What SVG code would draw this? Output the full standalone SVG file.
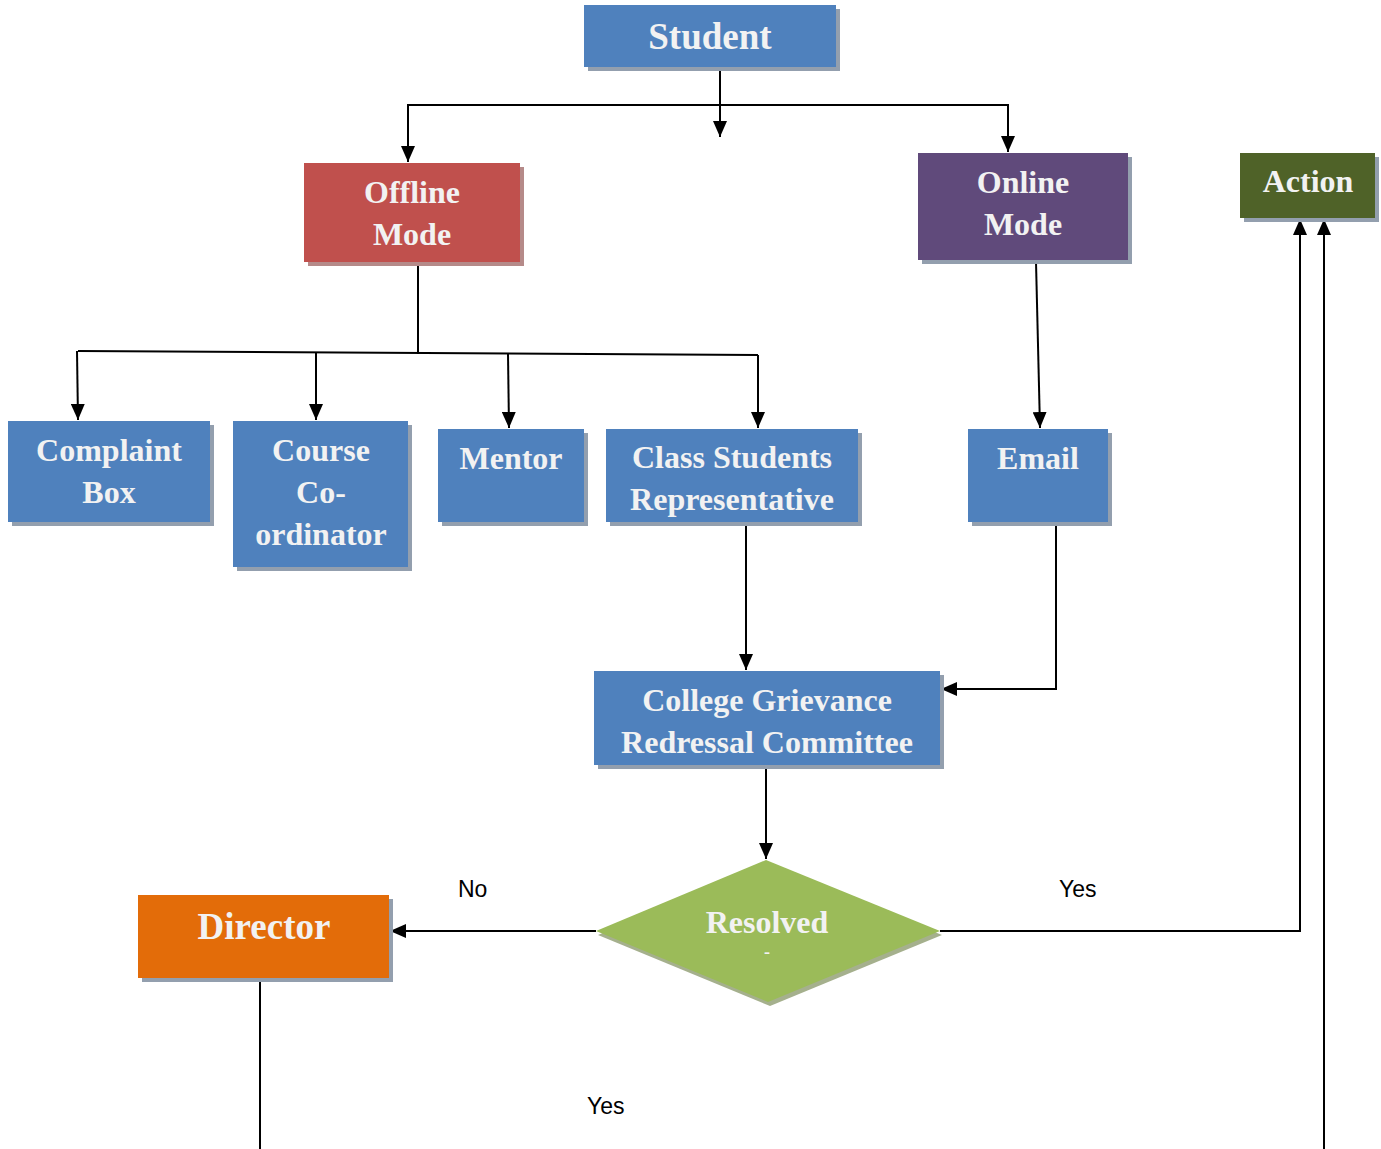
<svg xmlns="http://www.w3.org/2000/svg" width="1381" height="1149" viewBox="0 0 1381 1149">
<style>
.t{font-family:"Liberation Serif","Times New Roman",serif;font-weight:bold;font-size:32px;fill:#f2f2f2;text-anchor:middle}
.big{font-size:37px}
.sh{fill:#939fae}
.lbl{font-family:"Liberation Sans",Arial,sans-serif;font-size:23px;fill:#000}
.c{fill:none;stroke:#000;stroke-width:2}
.blue{fill:#4f81bd}
</style>
<defs>
<marker id="arr" markerUnits="userSpaceOnUse" markerWidth="16" markerHeight="14" refX="16" refY="7" orient="auto">
<path d="M0,0 L16,7 L0,14 z" fill="#000"/>
</marker>
</defs>
<rect width="1381" height="1149" fill="#fff"/>
<g id="connectors">
<path class="c" d="M720,67 V137" marker-end="url(#arr)"/>
<path class="c" d="M720,105 H408 V162" marker-end="url(#arr)"/>
<path class="c" d="M720,105 H1008 V152" marker-end="url(#arr)"/>
<path class="c" d="M418,262 V354"/>
<path class="c" d="M78,351 L758,355"/>
<path class="c" d="M77,351 L78,420" marker-end="url(#arr)"/>
<path class="c" d="M316,353 V420" marker-end="url(#arr)"/>
<path class="c" d="M508,354 L509,428" marker-end="url(#arr)"/>
<path class="c" d="M758,355 V428" marker-end="url(#arr)"/>
<path class="c" d="M1036,262 L1040,428" marker-end="url(#arr)"/>
<path class="c" d="M746,522 V670" marker-end="url(#arr)"/>
<path class="c" d="M1056,522 V689 H941" marker-end="url(#arr)"/>
<path class="c" d="M766,765 V859" marker-end="url(#arr)"/>
<path class="c" d="M596,931 H390" marker-end="url(#arr)"/>
<path class="c" d="M940,931 H1300 V219" marker-end="url(#arr)"/>
<path class="c" d="M1324,1149 V219" marker-end="url(#arr)"/>
<path class="c" d="M260,978 V1149"/>
</g>
<g id="labels">
<text class="lbl" x="458" y="897">No</text>
<text class="lbl" x="1059" y="897">Yes</text>
<text class="lbl" x="587" y="1114">Yes</text>
</g>
<g id="student">
<rect class="sh" x="588" y="9" width="252" height="62"/>
<rect class="blue" x="584" y="5" width="252" height="62"/>
<text class="t big" x="710" y="49">Student</text>
</g>
<g id="offline">
<rect x="308" y="167" width="216" height="99" fill="#b58a89"/>
<rect x="304" y="163" width="216" height="99" fill="#c0504d"/>
<text class="t" x="412" y="203">Offline</text>
<text class="t" x="412" y="245">Mode</text>
</g>
<g id="online">
<rect class="sh" x="922" y="157" width="210" height="107"/>
<rect x="918" y="153" width="210" height="107" fill="#604a7b"/>
<text class="t" x="1023" y="193">Online</text>
<text class="t" x="1023" y="235">Mode</text>
</g>
<g id="action">
<rect class="sh" x="1244" y="157" width="135" height="65"/>
<rect x="1240" y="153" width="135" height="65" fill="#4f6228"/>
<text class="t" x="1308" y="192">Action</text>
</g>
<g id="complaint">
<rect class="sh" x="12" y="425" width="202" height="101"/>
<rect class="blue" x="8" y="421" width="202" height="101"/>
<text class="t" x="109" y="461">Complaint</text>
<text class="t" x="109" y="503">Box</text>
</g>
<g id="course">
<rect class="sh" x="237" y="425" width="175" height="146"/>
<rect class="blue" x="233" y="421" width="175" height="146"/>
<text class="t" x="321" y="461">Course</text>
<text class="t" x="321" y="503">Co-</text>
<text class="t" x="321" y="545">ordinator</text>
</g>
<g id="mentor">
<rect class="sh" x="442" y="433" width="146" height="93"/>
<rect class="blue" x="438" y="429" width="146" height="93"/>
<text class="t" x="511" y="469">Mentor</text>
</g>
<g id="class-rep">
<rect class="sh" x="610" y="433" width="252" height="93"/>
<rect class="blue" x="606" y="429" width="252" height="93"/>
<text class="t" x="732" y="468">Class Students</text>
<text class="t" x="732" y="510">Representative</text>
</g>
<g id="email">
<rect class="sh" x="972" y="433" width="140" height="93"/>
<rect class="blue" x="968" y="429" width="140" height="93"/>
<text class="t" x="1038" y="469">Email</text>
</g>
<g id="committee">
<rect class="sh" x="598" y="675" width="346" height="94"/>
<rect class="blue" x="594" y="671" width="346" height="94"/>
<text class="t" x="767" y="711">College Grievance</text>
<text class="t" x="767" y="753">Redressal Committee</text>
</g>
<g id="resolved">
<polygon points="766,864 942,935 770,1006 598,935" fill="#a5b08d"/>
<polygon points="766,860 940,931 768,1002 596,931" fill="#9bbb59"/>
<text class="t" x="767" y="933">Resolved</text>
<text class="t" x="767" y="958" style="font-size:18px">-</text>
</g>
<g id="director">
<rect class="sh" x="142" y="899" width="251" height="83"/>
<rect x="138" y="895" width="251" height="83" fill="#e36c09"/>
<text class="t big" x="264" y="939">Director</text>
</g>
</svg>
